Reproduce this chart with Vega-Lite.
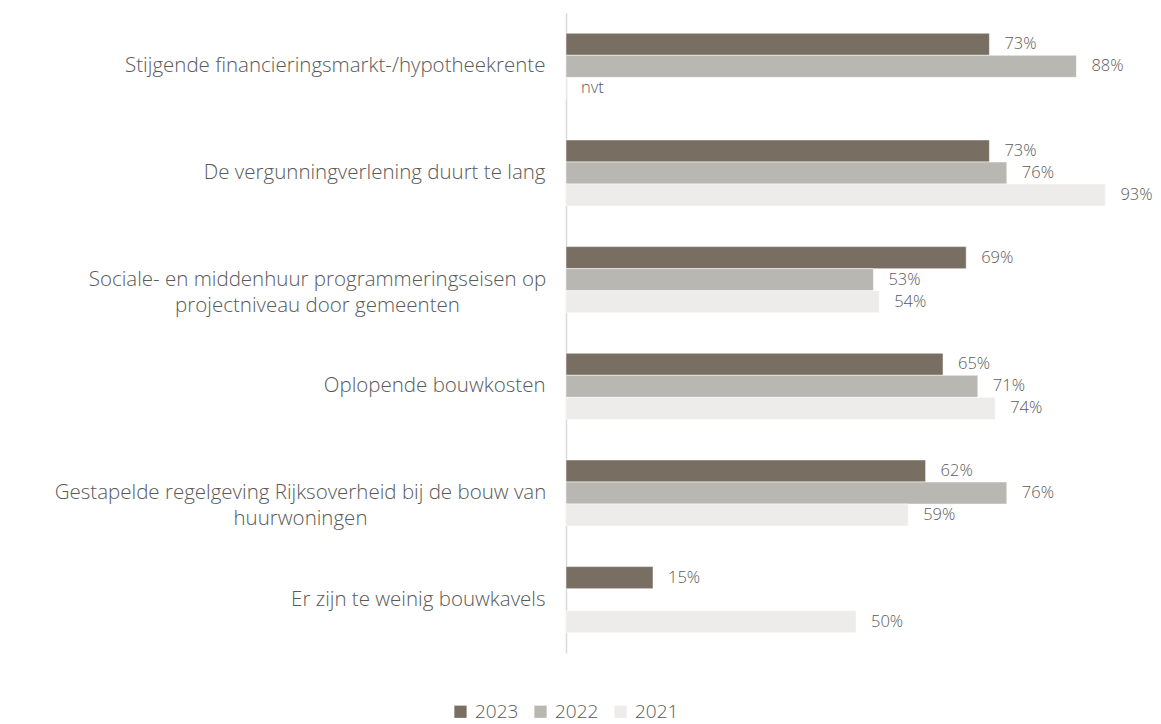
{
  "$schema": "https://vega.github.io/schema/vega-lite/v6.json",
  "autosize": "none",
  "width": 580,
  "height": 640,
  "padding": {"left": 566, "top": 13, "right": 15, "bottom": 71},
  "background": "white",
  "config": {
    "view": {"stroke": null},
    "font": "Open Sans",
    "text": {"font": "Open Sans"}
  },
  "data": {
    "values": [
      {"category": "Stijgende financieringsmarkt-/hypotheekrente", "year": "2023", "value": 73, "label": "73%"},
      {"category": "Stijgende financieringsmarkt-/hypotheekrente", "year": "2022", "value": 88, "label": "88%"},
      {"category": "Stijgende financieringsmarkt-/hypotheekrente", "year": "2021", "value": 0, "label": "nvt"},
      {"category": "De vergunningverlening duurt te lang", "year": "2023", "value": 73, "label": "73%"},
      {"category": "De vergunningverlening duurt te lang", "year": "2022", "value": 76, "label": "76%"},
      {"category": "De vergunningverlening duurt te lang", "year": "2021", "value": 93, "label": "93%"},
      {"category": "Sociale- en middenhuur programmeringseisen op|projectniveau door gemeenten", "year": "2023", "value": 69, "label": "69%"},
      {"category": "Sociale- en middenhuur programmeringseisen op|projectniveau door gemeenten", "year": "2022", "value": 53, "label": "53%"},
      {"category": "Sociale- en middenhuur programmeringseisen op|projectniveau door gemeenten", "year": "2021", "value": 54, "label": "54%"},
      {"category": "Oplopende bouwkosten", "year": "2023", "value": 65, "label": "65%"},
      {"category": "Oplopende bouwkosten", "year": "2022", "value": 71, "label": "71%"},
      {"category": "Oplopende bouwkosten", "year": "2021", "value": 74, "label": "74%"},
      {"category": "Gestapelde regelgeving Rijksoverheid bij de bouw van|huurwoningen", "year": "2023", "value": 62, "label": "62%"},
      {"category": "Gestapelde regelgeving Rijksoverheid bij de bouw van|huurwoningen", "year": "2022", "value": 76, "label": "76%"},
      {"category": "Gestapelde regelgeving Rijksoverheid bij de bouw van|huurwoningen", "year": "2021", "value": 59, "label": "59%"},
      {"category": "Er zijn te weinig bouwkavels", "year": "2023", "value": 15, "label": "15%"},
      {"category": "Er zijn te weinig bouwkavels", "year": "2021", "value": 50, "label": "50%"}
    ]
  },
  "encoding": {
    "y": {
      "field": "category",
      "type": "nominal",
      "sort": [
        "Stijgende financieringsmarkt-/hypotheekrente",
        "De vergunningverlening duurt te lang",
        "Sociale- en middenhuur programmeringseisen op|projectniveau door gemeenten",
        "Oplopende bouwkosten",
        "Gestapelde regelgeving Rijksoverheid bij de bouw van|huurwoningen",
        "Er zijn te weinig bouwkavels"
      ],
      "scale": {"paddingInner": 0.38, "paddingOuter": 0.19},
      "axis": {
        "title": null,
        "ticks": false,
        "domainColor": "#D9D9D9",
        "domainWidth": 1.5,
        "labelFontSize": 20.5,
        "labelFontWeight": 300,
        "labelColor": "#595959",
        "labelLimit": 0,
        "labelLineHeight": 26,
        "labelExpr": "split(datum.label, '|')",
        "labelAlign": {
          "condition": {"test": "indexof(datum.value, '|') >= 0", "value": "center"},
          "value": "right"
        },
        "labelPadding": {
          "condition": [
            {"test": "indexof(datum.value, 'Sociale') == 0", "value": 249},
            {"test": "indexof(datum.value, 'Gestapelde') == 0", "value": 266}
          ],
          "value": 21
        }
      }
    },
    "yOffset": {
      "field": "year",
      "type": "nominal",
      "sort": ["2023", "2022", "2021"],
      "scale": {"domain": ["2023", "2022", "2021"], "paddingInner": 0, "paddingOuter": 0}
    },
    "x": {
      "field": "value",
      "type": "quantitative",
      "scale": {"domain": [0, 100], "nice": false},
      "axis": null
    }
  },
  "layer": [
    {
      "mark": {"type": "bar", "stroke": "white", "strokeWidth": 0.5},
      "encoding": {
        "color": {
          "field": "year",
          "type": "nominal",
          "scale": {"domain": ["2023", "2022", "2021"], "range": ["#786E62", "#B8B7B2", "#EDECEA"]},
          "legend": {
            "title": null,
            "orient": "none",
            "legendX": -115,
            "legendY": 689,
            "direction": "horizontal",
            "symbolType": "square",
            "symbolSize": 150,
            "symbolStrokeWidth": 0,
            "labelFontSize": 19,
            "labelFontWeight": 300,
            "labelColor": "#595959",
            "columnPadding": 12,
            "labelOffset": 5
          }
        }
      }
    },
    {
      "mark": {"type": "text", "align": "left", "baseline": "middle", "dx": 15, "fontSize": 16.5, "fontWeight": 300, "color": "#595959"},
      "encoding": {"text": {"field": "label"}}
    }
  ]
}
